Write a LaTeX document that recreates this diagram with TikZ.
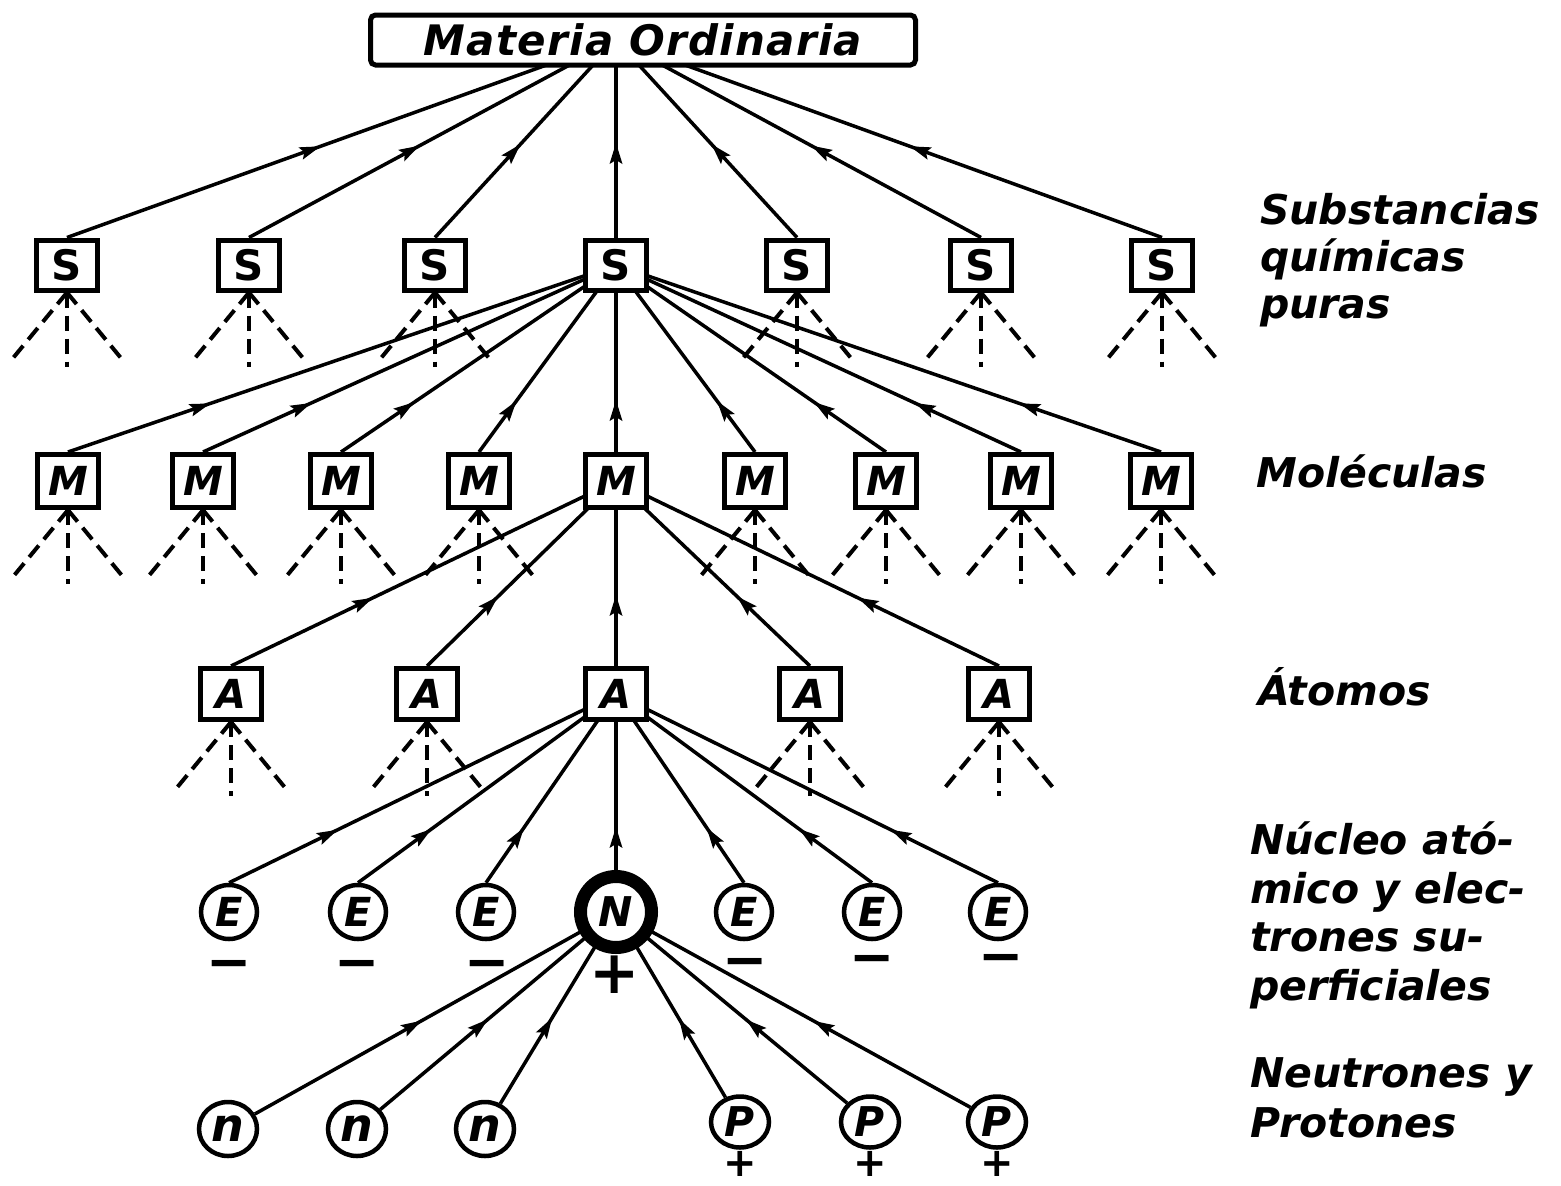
\documentclass[tikz,border=0pt]{standalone}
\usepackage{fontspec}
\setmainfont{DejaVu Sans}
\usetikzlibrary{decorations.markings,calc,shapes.geometric}
\pgfdeclarelayer{paper}
\pgfdeclarelayer{edges}
\pgfsetlayers{paper,edges,main}

\tikzset{
  letters/.style={font=\fontsize{#1}{#1}\selectfont\bfseries\itshape},
  box/.style={draw, line width=5pt, fill=white, rectangle, inner sep=0pt,
              minimum width=61pt, minimum height=51pt, letters=40},
  sbox/.style={box, minimum height=50pt, font=\fontsize{42}{42}\selectfont\bfseries},
  mbox/.style={box, minimum height=53pt},
  particle/.style={draw, ellipse, line width=4.5pt, fill=white, inner sep=0pt,
                   minimum width=56pt, minimum height=54pt, letters=40},
  nucleus/.style={draw, circle, line width=13pt, fill=white, inner sep=0pt,
                  minimum size=71pt, letters=41},
  % straight connector with a solid dart part-way along, pointing to the parent
  link/.style={line width=3.5pt,
    postaction={decorate, decoration={markings,
      mark=at position #1 with {\fill (5pt,0pt) -- (-16pt,-6.5pt) -- (-12pt,0pt) -- (-16pt,6.5pt) -- cycle;}}}},
  fanline/.style={line width=4pt, dash pattern=on 15pt off 8pt},
  lab/.style={font=\fontsize{41}{47}\selectfont\bfseries\itshape, align=left, inner sep=0pt},
  sign/.style={font=\fontsize{#1}{#1}\selectfont\bfseries, inner sep=0pt}
}

\begin{document}
\begin{tikzpicture}[x=1pt,y=-1pt]
\begin{pgfonlayer}{paper}
  \fill[white] (0,0) rectangle (1561,1186);
\end{pgfonlayer}
\useasboundingbox (0,0) rectangle (1561,1186);

% ---- levels ----
\node[box, rounded corners=5pt, minimum width=545pt, minimum height=50pt,
      font=\fontsize{42}{42}\selectfont\bfseries\itshape\addfontfeature{LetterSpace=3}]
  (mat) at (643,40) {Materia Ordinaria};
\coordinate (hub) at (616,40);

\foreach \i/\x in {1/67,2/249,3/435,4/616,5/797,6/981,7/1162}
  \node[sbox] (S\i) at (\x,265) {S};

\foreach \i/\x in {1/68,2/203,3/341,4/479,5/616,6/755,7/886,8/1021,9/1161}
  \node[mbox] (M\i) at (\x,481) {M};

\foreach \i/\x in {1/231,2/427,3/616,4/810,5/999}
  \node[box] (A\i) at (\x,694) {A};

\foreach \i/\x in {1/229,2/358,3/486,4/744,5/872,6/998}
  \node[particle] (E\i) at (\x,912) {E};
\node[nucleus] (N) at (616,912) {N};

\foreach \i/\x in {1/228,2/357,3/485}
  \node[particle, minimum width=58pt, letters=46] (n\i) at (\x,1129) {n};
\foreach \i/\x in {1/740,2/870,3/997}
  \node[particle, minimum width=58pt, minimum height=51pt, letters=41] (P\i) at (\x,1122) {P};

% ---- charges ----
\foreach \i/\x/\y in {1/229/970,2/357/970,3/487/970,4/745/968,5/872/965,6/1001/964}
  \node[sign=54] (q\i) at (\x,\y) {−};
\node[sign=60] (qN) at (615,975) {+};
\foreach \i/\x in {1/740,2/870,3/997}
  \node[sign=40] (qP\i) at (\x,1164) {+};

% ---- right-hand captions (anchored on their last baseline) ----
\node[lab, anchor=base west] (capS) at (1260,318) {Substancias\\químicas\\puras};
\node[lab, anchor=base west] (capM) at (1256,487) {Moléculas};
\node[lab, anchor=base west] (capA) at (1258,705) {Átomos};
\node[lab, anchor=base west, font=\fontsize{41}{48.5}\selectfont\bfseries\itshape] (capN) at (1250,1000)
  {Núcleo ató-\\mico y elec-\\trones su-\\perficiales};
\node[lab, anchor=base west, font=\fontsize{41}{50}\selectfont\bfseries\itshape] (capP) at (1250,1137)
  {Neutrones y\\Protones};

% ---- connectors ----
\begin{pgfonlayer}{edges}
  \foreach \i in {1,...,7}
    \draw[link=0.453] (S\i.north) -- (hub);
  \foreach \i in {1,...,9}
    \draw[link=0.251] (M\i.north) -- (S4.center);
  \foreach \i in {1,...,5}
    \draw[link=0.357] (A\i.north) -- (M5.center);
  \foreach \i in {1,...,6}
    \draw[link=0.269] (E\i.north) -- (A3.center);
  \draw[link=0.216] (N.north) -- (A3.center);
  \foreach \c/\f in {n1/0.45,n2/0.44,n3/0.425,P1/0.40,P2/0.42,P3/0.43}
    \draw[link=\f] (\c) -- (N.center);

  % dashed fans below the unexpanded boxes
  \foreach \b in {S1,S2,S3,S5,S6,S7,M1,M2,M3,M4,M6,M7,M8,M9,A1,A2,A4,A5} {
    \coordinate (\b-l) at ($(\b.south)+(-56,68)$);
    \coordinate (\b-c) at ($(\b.south)+(0,74)$);
    \coordinate (\b-r) at ($(\b.south)+(56,68)$);
    \draw[fanline] (\b.south) -- (\b-l);
    \draw[fanline] (\b.south) -- (\b-c);
    \draw[fanline] (\b.south) -- (\b-r);
  }
\end{pgfonlayer}
\end{tikzpicture}
\end{document}
